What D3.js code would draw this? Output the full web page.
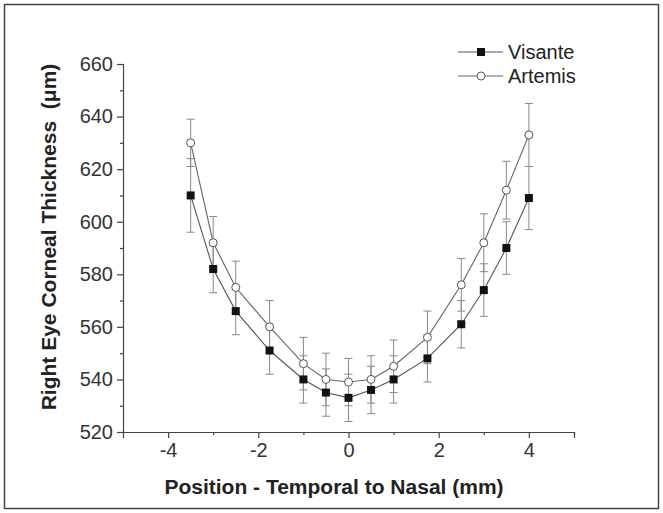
<!DOCTYPE html>
<html>
<head>
<meta charset="utf-8">
<script src="https://cdn.jsdelivr.net/npm/d3@7"></script>
<style>
  body { margin: 0; background: #fff; }
  text { font-family: "Liberation Sans", Arial, sans-serif; }
</style>
</head>
<body>
<div id="chart"></div>
<script>
// positions along the cornea (mm)
let positions = [-3.5, -3, -2.5, -1.75, -1, -0.5, 0, 0.5, 1, 1.75, 2.5, 3, 3.5, 4];

// Visante thickness and error (um)
let visante = [610, 582, 566, 551, 540, 535, 533, 536, 540, 548, 561, 574, 590, 609];
let visanteErr = [14, 9, 9, 9, 9, 9, 9, 9, 9, 9, 9, 10, 10, 12];

// Artemis thickness and error (um)
let artemis = [630, 592, 575, 560, 546, 540, 539, 540, 545, 556, 576, 592, 612, 633];
let artemisErr = [9, 10, 10, 10, 10, 10, 9, 9, 10, 10, 10, 11, 11, 12];

let xTicks = [-4, -2, 0, 2, 4];
let yTicks = [520, 540, 560, 580, 600, 620, 640, 660];

let width = 663;
let height = 513;

let svg = d3.select("#chart").append("svg").attr("width", width).attr("height", height);

// outer frame
svg.append("rect").attr("x", 4.5).attr("y", 4.5).attr("width", 654).attr("height", 504)
    .attr("fill", "none").attr("stroke", "#444").attr("stroke-width", 1.5);

let xScale = d3.scaleLinear().domain([-5, 5]).range([123, 574]);
let yScale = d3.scaleLinear().domain([520, 660]).range([432, 64]);

let axisColor = "#444";

// x axis: major + minor ticks
svg.append("g").attr("transform", `translate(0, ${yScale(520)})`)
    .call(d3.axisBottom(xScale).tickValues(xTicks).tickSize(6).tickPadding(5).tickFormat(d => String(d)));
svg.append("g").attr("transform", `translate(0, ${yScale(520)})`)
    .call(d3.axisBottom(xScale).tickValues([-3, -1, 1, 3, 5]).tickSize(3).tickFormat(""))
    .select(".domain").remove();

// y axis: major + minor ticks
svg.append("g").attr("transform", `translate(${xScale(-5)}, 0)`)
    .call(d3.axisLeft(yScale).tickValues(yTicks).tickSize(6).tickPadding(4));
svg.append("g").attr("transform", `translate(${xScale(-5)}, 0)`)
    .call(d3.axisLeft(yScale).tickValues([530, 550, 570, 590, 610, 630, 650]).tickSize(3).tickFormat(""))
    .select(".domain").remove();

svg.selectAll(".domain").attr("stroke", axisColor).attr("stroke-width", 1.2);
svg.selectAll(".tick line").attr("stroke", axisColor).attr("stroke-width", 1.2);
svg.selectAll(".tick text").attr("fill", "#333").style("font-size", "20px")
    .style("font-family", "'Liberation Sans', Arial, sans-serif");

// axis titles
svg.append("text").attr("x", 334).attr("y", 494).attr("text-anchor", "middle")
    .style("font-size", "21px").style("font-weight", "bold").attr("fill", "#222")
    .text("Position - Temporal to Nasal (mm)");

svg.append("text").attr("transform", "rotate(-90)").attr("x", -237).attr("y", 56)
    .attr("text-anchor", "middle").style("font-size", "21px").style("font-weight", "bold").attr("fill", "#222")
    .attr("xml:space", "preserve")
    .text("Right Eye Corneal Thickness  (\u03bcm)");

// error bars
function drawErrors(values, errs) {
    let g = svg.append("g").attr("stroke", "#888").attr("stroke-width", 1);
    values.forEach((v, i) => {
        let x = xScale(positions[i]);
        let top = yScale(v + errs[i]);
        let bottom = yScale(v - errs[i]);
        g.append("line").attr("x1", x).attr("x2", x).attr("y1", top).attr("y2", bottom);
        g.append("line").attr("x1", x - 4).attr("x2", x + 4).attr("y1", top).attr("y2", top);
        g.append("line").attr("x1", x - 4).attr("x2", x + 4).attr("y1", bottom).attr("y2", bottom);
    });
}
drawErrors(visante, visanteErr);
drawErrors(artemis, artemisErr);

// connecting lines
let line = d3.line().x((d, i) => xScale(positions[i])).y(d => yScale(d));

svg.append("path").datum(visante).attr("d", line).attr("fill", "none")
    .attr("stroke", "#555").attr("stroke-width", 1.1);
svg.append("path").datum(artemis).attr("d", line).attr("fill", "none")
    .attr("stroke", "#666").attr("stroke-width", 1.1);

// markers
svg.selectAll(".vis").data(visante).enter().append("rect").attr("class", "vis")
    .attr("x", (d, i) => xScale(positions[i]) - 4).attr("y", d => yScale(d) - 4)
    .attr("width", 8).attr("height", 8).attr("fill", "#111");

svg.selectAll(".art").data(artemis).enter().append("circle").attr("class", "art")
    .attr("cx", (d, i) => xScale(positions[i])).attr("cy", d => yScale(d)).attr("r", 4)
    .attr("fill", "#fff").attr("stroke", "#555").attr("stroke-width", 1);

// legend
let legend = svg.append("g");
legend.append("line").attr("x1", 458).attr("x2", 503).attr("y1", 52).attr("y2", 52).attr("stroke", "#555");
legend.append("rect").attr("x", 477).attr("y", 48).attr("width", 8).attr("height", 8).attr("fill", "#111");
legend.append("text").attr("x", 508).attr("y", 59).style("font-size", "20px").attr("fill", "#222").text("Visante");

legend.append("line").attr("x1", 458).attr("x2", 503).attr("y1", 76).attr("y2", 76).attr("stroke", "#666");
legend.append("circle").attr("cx", 481).attr("cy", 76).attr("r", 4).attr("fill", "#fff").attr("stroke", "#555");
legend.append("text").attr("x", 508).attr("y", 83).style("font-size", "20px").attr("fill", "#222").text("Artemis");
</script>
</body>
</html>
